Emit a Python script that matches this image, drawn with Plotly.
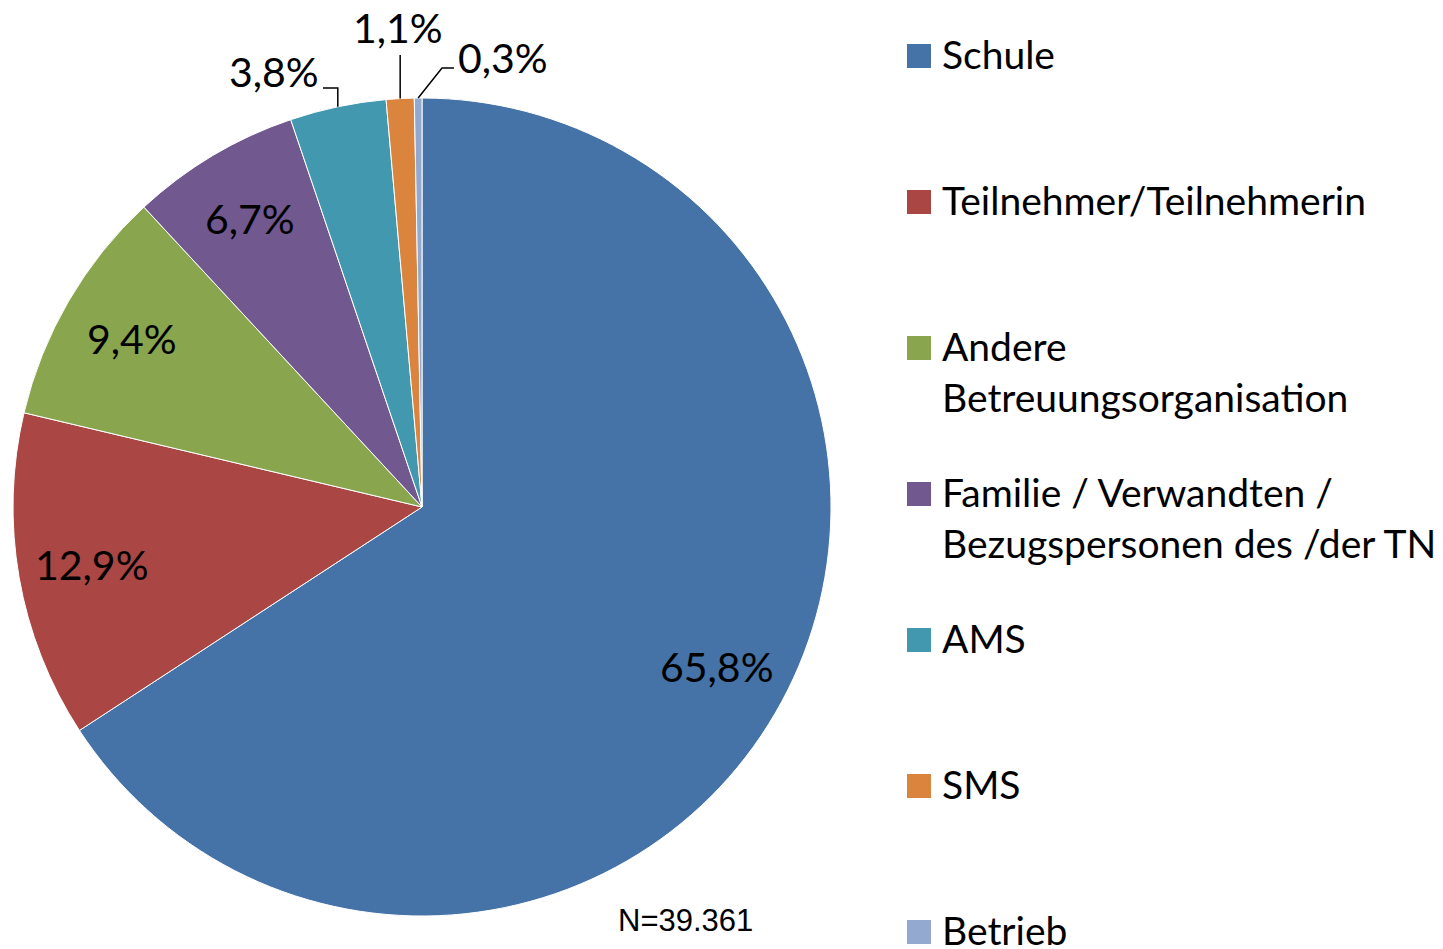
import math
import plotly.graph_objects as go

W, H = 1443, 949

categories = ["Schule", "Teilnehmer/Teilnehmerin", "Andere Betreuungsorganisation",
              "Familie / Verwandten / Bezugspersonen des /der TN", "AMS", "SMS", "Betrieb"]
legend_labels = ["Schule", "Teilnehmer/Teilnehmerin", "Andere<br>Betreuungsorganisation",
                 "Familie / Verwandten /<br>Bezugspersonen des /der TN", "AMS", "SMS", "Betrieb"]
values = [65.8, 12.9, 9.4, 6.7, 3.8, 1.1, 0.3]
colors = ["#4572A7", "#AA4643", "#89A54E", "#71588F", "#4198AF", "#DB843D", "#93A9CF"]
inside = [True, True, True, True, False, False, False]
n_text = "N=39.361"

FONT = "Lato"
FS_LEG = 39
FS_LAB = 41

# pie geometry (pixels in page)
CX, CY, R = 422, 507, 409
OFF = 8  # body margin of the html page


def px(x):
    return (x - OFF) / W


def py(y):
    return 1 - (y - OFF) / H


fig = go.Figure()
fig.add_trace(go.Pie(
    labels=categories, values=values, sort=False, direction="clockwise", rotation=0,
    marker=dict(colors=colors, line=dict(color="white", width=1)),
    textinfo="none", hoverinfo="label+percent", showlegend=False,
    domain=dict(x=[px(CX - R), px(CX + R)], y=[py(CY + R), py(CY - R)]),
))

annotations = []
shapes = []
total = sum(values)
cum = 0.0
mids = []
for v in values:
    mid = (cum + v / 2) / total * 2 * math.pi
    mids.append(mid)
    cum += v


def pt(theta, r):
    return CX + r * math.sin(theta), CY - r * math.cos(theta)


def fmt(v):
    return f"{v:.1f}".replace(".", ",") + "%"


lab_font = dict(family=FONT, size=FS_LAB, color="black")

for i, v in enumerate(values):
    if inside[i]:
        x, y = pt(mids[i], 0.82 * R)
        annotations.append(dict(x=px(x), y=py(y), xref="paper", yref="paper", text=fmt(v),
                                showarrow=False, xanchor="center", yanchor="middle",
                                font=lab_font))

# outside labels with leader lines
# AMS
ex, ey = pt(mids[4], R)
shapes.append(dict(type="path", xref="paper", yref="paper",
                   path=f"M {px(ex)},{py(ey)} L {px(ex)},{py(88)} L {px(323)},{py(88)}",
                   line=dict(color="black", width=1.5)))
annotations.append(dict(x=px(321), y=py(72), xref="paper", yref="paper", text=fmt(values[4]),
                        showarrow=False, xanchor="right", yanchor="middle", font=lab_font))
# SMS
ex, ey = pt(mids[5], R)
shapes.append(dict(type="path", xref="paper", yref="paper",
                   path=f"M {px(ex)},{py(ey)} L {px(ex)},{py(55)}",
                   line=dict(color="black", width=1.5)))
annotations.append(dict(x=px(398), y=py(28), xref="paper", yref="paper", text=fmt(values[5]),
                        showarrow=False, xanchor="center", yanchor="middle", font=lab_font))
# Betrieb
ex, ey = pt(mids[6], R)
shapes.append(dict(type="path", xref="paper", yref="paper",
                   path=f"M {px(ex)},{py(ey)} L {px(442)},{py(68)} L {px(454)},{py(68)}",
                   line=dict(color="black", width=1.5)))
annotations.append(dict(x=px(456), y=py(57), xref="paper", yref="paper", text=fmt(values[6]),
                        showarrow=False, xanchor="left", yanchor="middle", font=lab_font))

# N annotation
annotations.append(dict(x=px(685), y=py(920), xref="paper", yref="paper", text=n_text,
                        showarrow=False, xanchor="center", yanchor="middle",
                        font=dict(family="Liberation Sans", size=31, color="black")))

# manual legend
LX, LY0, LSTEP = 907, 56, 146
for i, lab in enumerate(legend_labels):
    yc = LY0 + i * LSTEP
    shapes.append(dict(type="rect", xref="paper", yref="paper",
                       x0=px(LX), x1=px(LX + 24), y0=py(yc + 12), y1=py(yc - 12),
                       fillcolor=colors[i], line=dict(width=0)))
    annotations.append(dict(x=px(LX + 33), y=py(yc - 27), xref="paper", yref="paper", text=lab,
                            showarrow=False, xanchor="left", yanchor="top", align="left",
                            font=dict(family=FONT, size=FS_LEG, color="black")))

fig.update_layout(
    width=W, height=H, margin=dict(l=0, r=0, t=0, b=0),
    paper_bgcolor="white", plot_bgcolor="white",
    annotations=annotations, shapes=shapes,
)

fig.write_html("out.html")
